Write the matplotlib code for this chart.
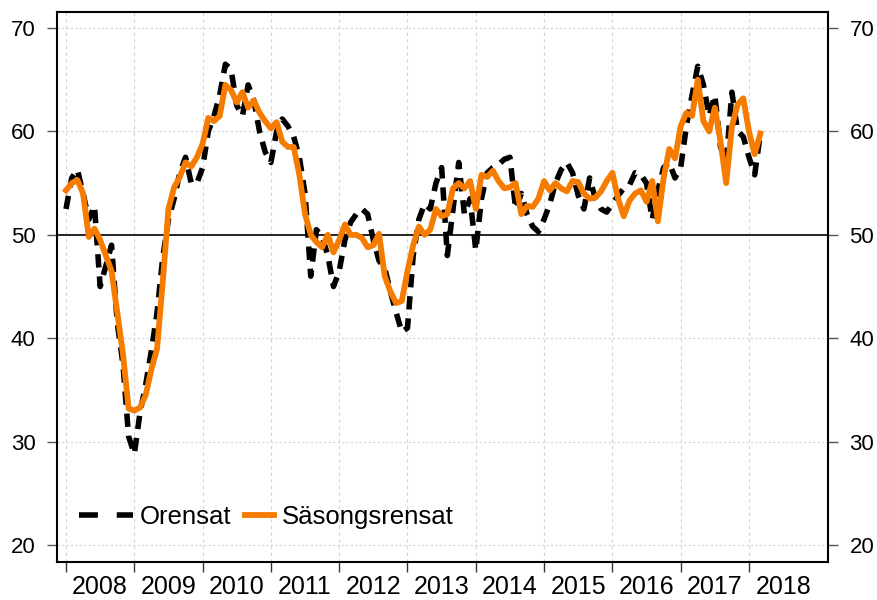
import numpy as np
import matplotlib
matplotlib.use("Agg")
import matplotlib.pyplot as plt
from matplotlib.ticker import FixedLocator, NullFormatter

plt.rcParams['font.family'] = ['Liberation Sans', 'DejaVu Sans']

# monthly index values, Jan 2008 - Mar 2018
start_year = 2008
orensat = [
    52.5, 55.5, 56.3, 54.0, 51.5, 52.8, 45.0, 47.0, 49.0, 41.5, 37.5, 30.5,
    28.8, 32.8, 35.5, 38.8, 42.5, 47.8, 51.5, 53.5, 56.0, 57.5, 55.0, 55.0,
    56.5, 60.0, 61.5, 63.5, 66.5, 66.0, 62.5, 61.5, 64.5, 63.0, 60.0, 58.0,
    57.0, 60.0, 61.2, 60.5, 59.5, 57.5, 54.0, 46.0, 50.5, 49.8, 48.0, 45.0,
    46.5, 49.5, 51.2, 52.0, 52.5, 52.0, 49.5, 47.5, 46.8, 44.5, 42.5, 40.6,
    41.0, 48.0, 51.5, 53.0, 52.5, 55.0, 56.5, 48.0, 52.5, 57.0, 52.0, 53.5,
    48.5, 53.5, 56.0, 56.5, 56.8, 57.3, 57.5, 52.5, 54.0, 52.0, 50.8, 50.3,
    51.5, 53.0, 55.0, 56.3, 57.0, 56.0, 53.8, 52.5, 55.5, 53.5, 52.5, 52.2,
    53.0, 53.8, 54.5, 54.8, 56.0, 55.8, 55.0, 51.5, 54.3, 56.5, 57.0, 55.5,
    56.5, 60.5, 63.5, 66.3, 64.5, 61.5, 63.5, 58.5, 57.0, 63.8, 60.0, 59.5,
    57.5, 55.8, 59.8,
]
sasongsrensat = [
    54.3, 55.0, 55.3, 54.0, 49.8, 50.6, 49.5, 48.0, 46.5, 42.5, 38.5, 33.2,
    33.0, 33.3, 34.5, 37.0, 39.0, 45.5, 52.5, 54.6, 55.6, 57.0, 56.6, 57.5,
    58.8, 61.3, 61.0, 61.5, 64.5, 64.0, 62.8, 63.8, 62.3, 63.0, 61.8, 61.0,
    60.3, 60.9, 59.0, 58.5, 58.5, 55.8, 52.0, 50.0, 49.3, 48.8, 50.0, 48.3,
    49.5, 51.0, 50.0, 50.0, 49.7, 48.8, 49.0, 50.1, 46.0, 44.5, 43.4, 43.6,
    46.5, 49.0, 50.8, 50.0, 50.5, 52.5, 51.8, 52.0, 54.5, 55.0, 54.5, 55.2,
    52.5, 55.8, 55.6, 56.2, 55.2, 54.5, 54.6, 55.0, 52.0, 52.8, 52.7, 53.5,
    55.2, 54.3, 55.0, 54.5, 54.2, 55.2, 55.1, 54.0, 53.5, 53.6, 54.2, 55.2,
    56.0, 53.5, 51.8, 53.3, 54.0, 54.3, 53.2, 55.2, 51.3, 55.5, 58.3, 57.4,
    60.5, 61.8, 61.5, 65.0, 61.0, 60.0, 62.3, 59.0, 55.0, 60.5, 62.6, 63.2,
    60.0, 57.8, 59.8,
]
years = list(range(2008, 2019))
yticks = [20, 30, 40, 50, 60, 70]

t = start_year + np.arange(len(orensat)) / 12.0

fig = plt.figure(figsize=(8.78, 6.0), dpi=100)
ax = fig.add_axes([57 / 878, 38 / 600, 771 / 878, 550 / 600])

# grid
for yr in years:
    ax.axvline(yr, color="#d4d4d4", lw=0.8, ls=(0, (3, 3)), zorder=0)
for v in yticks:
    if v != 50:
        ax.axhline(v, color="#d4d4d4", lw=0.8, ls=(0, (2, 2)), zorder=0)
ax.axhline(50, color="black", lw=1.2, zorder=1)

l1, = ax.plot(t, orensat, color="black", lw=4.0, ls=(0, (2.4, 1.6)),
              label="Orensat", zorder=3)
l2, = ax.plot(t, sasongsrensat, color="#f57c00", lw=4.2,
              label="Säsongsrensat", zorder=4, solid_joinstyle="round")

ax.set_xlim(2007.868, 2019.157)
ax.set_ylim(18.36, 71.55)

# x: year ticks at year start, labels mid-year
ax.xaxis.set_major_locator(FixedLocator(years))
ax.xaxis.set_major_formatter(NullFormatter())
ax.xaxis.set_minor_locator(FixedLocator([y + 0.5 for y in years]))
ax.set_xticklabels([str(y) for y in years], minor=True)
ax.tick_params(axis="x", which="major", length=7.5, width=1.0, color="#333333")
ax.tick_params(axis="x", which="minor", length=0, pad=9.5, labelsize=18)

ax.set_yticks(yticks)
ax.tick_params(axis="y", which="major", length=7.5, width=1.0, color="#555555",
               labelsize=16, pad=8, right=True, labelright=True)

for s in ax.spines.values():
    s.set_linewidth(1.5)

leg1 = ax.legend(handles=[l1], loc="center left", bbox_to_anchor=(0.0285, 0.082),
                 frameon=False, fontsize=18.5, handlelength=2.1, handletextpad=0.28,
                 borderpad=0, borderaxespad=0)
leg1.get_lines()[0].set_dashes([3.4, 3.4])
ax.add_artist(leg1)
ax.legend(handles=[l2], loc="center left", bbox_to_anchor=(0.244, 0.082),
          frameon=False, fontsize=18.5, handlelength=1.13, handletextpad=0.3,
          borderpad=0, borderaxespad=0)

fig.savefig("out.png", dpi=100)
